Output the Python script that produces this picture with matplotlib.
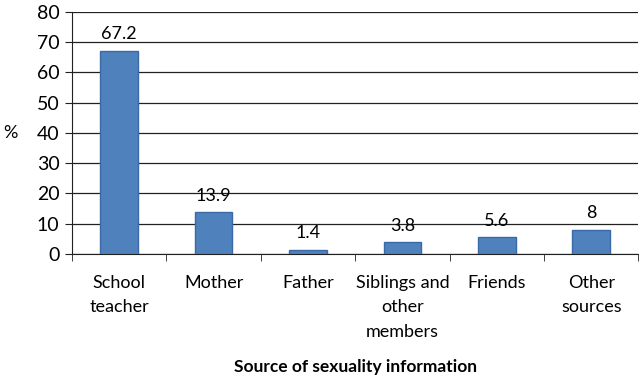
import numpy as np
import matplotlib.pyplot as plt

plt.rcParams['font.family'] = ['Lato', 'DejaVu Sans']

categories = ["School\nteacher", "Mother", "Father", "Siblings and\nother\nmembers", "Friends", "Other\nsources"]
values = [67.2, 13.9, 1.4, 3.8, 5.6, 8]
value_labels = ["67.2", "13.9", "1.4", "3.8", "5.6", "8"]

fig = plt.figure(figsize=(6.4, 3.83), dpi=100)
ax = fig.add_axes([0.1125, 0.337, 0.885, 0.632])

x = np.arange(len(categories))
bars = ax.bar(x, values, width=0.4, color="#4F81BD", edgecolor="#3A6AA6", linewidth=1, zorder=3)

for xi, v, lab in zip(x, values, value_labels):
    ax.annotate(lab, (xi, v), xytext=(0, 6), textcoords="offset points",
                ha="center", va="bottom", fontsize=13)

ax.set_xlim(-0.5, len(categories) - 0.5)
ax.set_ylim(0, 80)
ax.set_yticks(range(0, 81, 10))
ax.grid(axis="y", color="#202020", linewidth=0.9, zorder=0)

ax.set_xticks(x)
ax.set_xticklabels(categories, fontsize=13, linespacing=1.65)
ax.set_xticks(np.arange(-0.5, len(categories)), minor=True)
ax.tick_params(axis="x", which="major", length=0, pad=15)
ax.tick_params(axis="x", which="minor", length=5, direction="out", color="#202020")
ax.tick_params(axis="y", labelsize=14, length=5, color="#202020", pad=4)

for s in ["top", "right"]:
    ax.spines[s].set_visible(False)
ax.spines["left"].set_color("#202020")
ax.spines["bottom"].set_color("#202020")

ax.set_ylabel("%", rotation=0, fontsize=13, ha="left", va="center")
ax.yaxis.set_label_coords(-0.122, 0.5)
ax.set_xlabel("Source of sexuality information", fontsize=12.5, fontweight="bold", labelpad=14)

fig.savefig("out.png", dpi=100)
